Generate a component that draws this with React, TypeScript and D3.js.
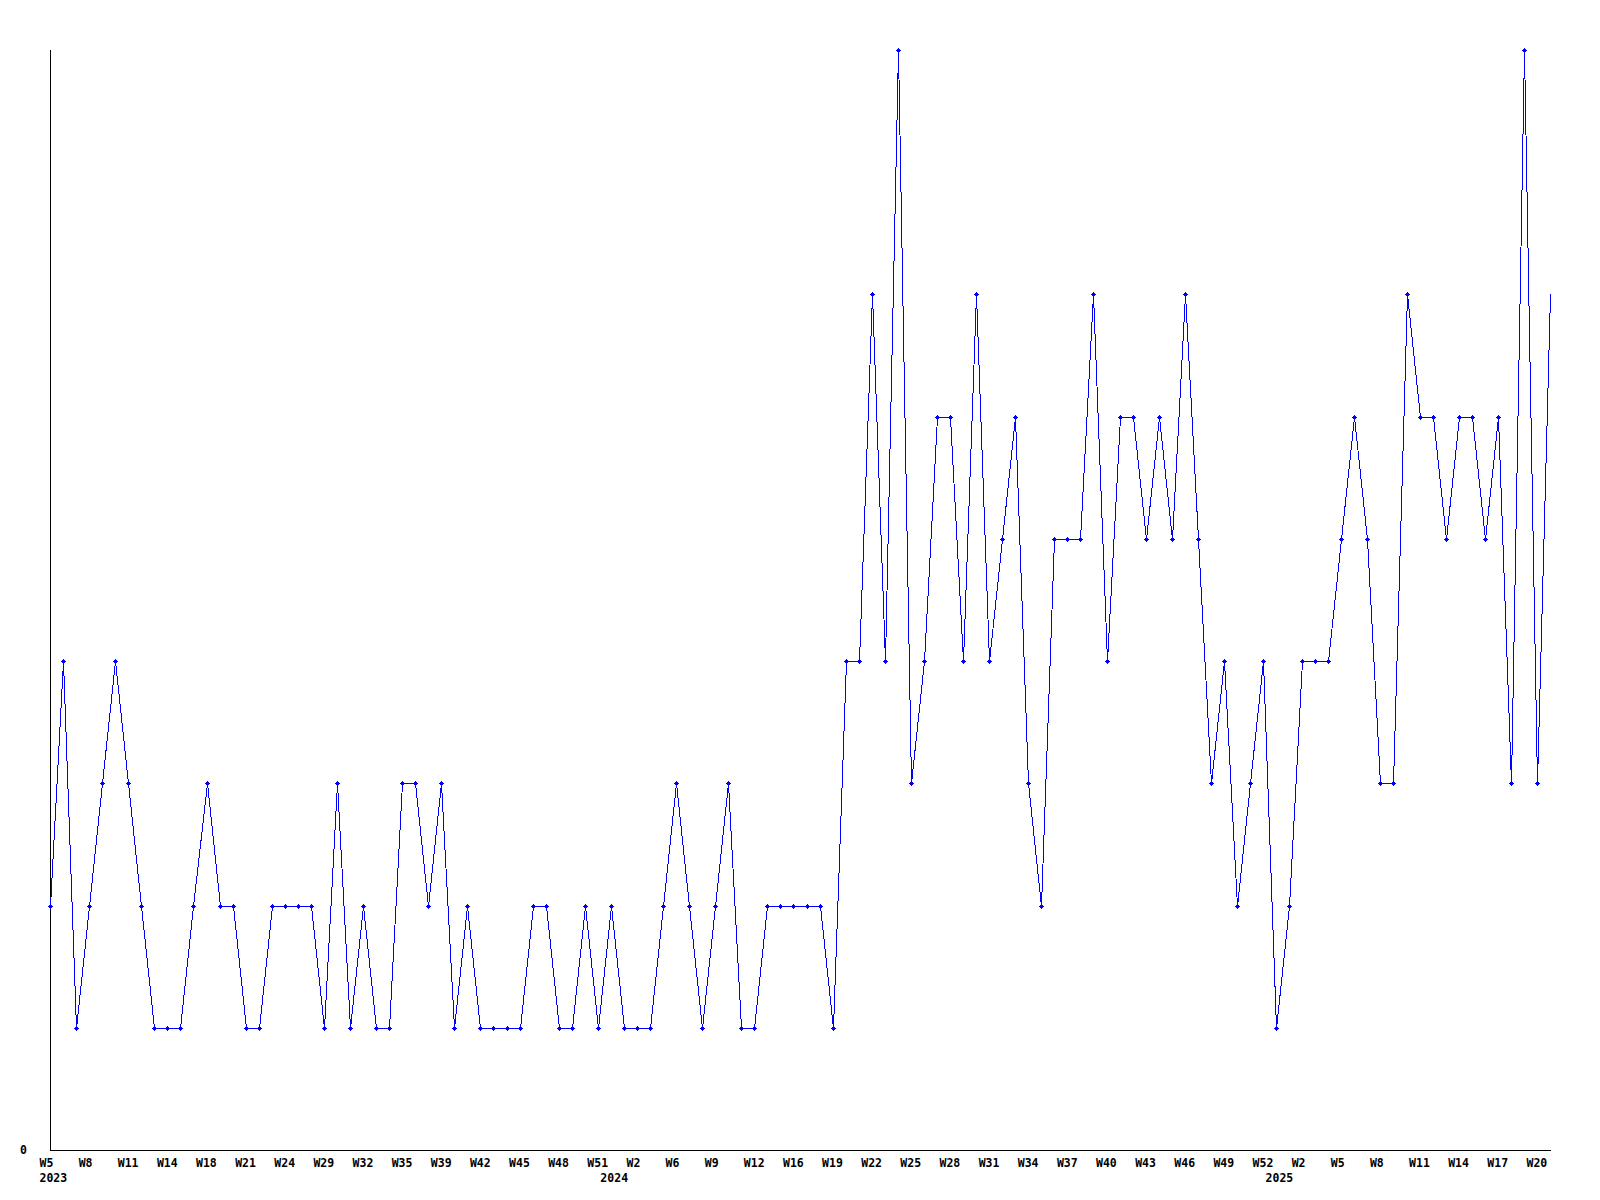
import React from "react";
import * as d3 from "d3";

// ---- data ----
const weeks2023 = ["W5","W6","W7","W8","W9","W10","W11","W12","W13","W14","W15","W17","W18","W19","W20","W21","W22","W23","W24","W25","W26","W29","W30","W31","W32","W33","W34","W35","W36","W38","W39","W40","W41","W42","W43","W44","W45","W46","W47","W48","W49","W50","W51"];
const values2023 = [2,4,1,2,3,4,3,2,1,1,1,2,3,2,2,1,1,2,2,2,2,1,3,1,2,1,1,3,3,2,3,1,2,1,1,1,1,2,2,1,1,2,1];

const weeks2024 = ["W0","W1","W2","W3","W5","W6","W7","W8","W9","W10","W11","W12","W13","W15","W16","W17","W18","W19","W20","W21","W22","W23","W24","W25","W26","W27","W28","W29","W30","W31","W32","W33","W34","W35","W36","W37","W38","W39","W40","W41","W42","W43","W44","W45","W46","W47","W48","W49","W50","W51","W52"];
const values2024 = [2,1,1,1,2,3,2,1,2,3,1,1,2,2,2,2,2,1,4,4,7,4,9,3,4,6,6,4,7,4,5,6,3,2,5,5,5,7,4,6,6,5,6,5,7,5,3,4,2,3,4];

const weeks2025 = ["W0","W1","W2","W3","W4","W5","W6","W7","W8","W9","W10","W11","W12","W13","W14","W15","W16","W17","W18","W19","W20","W21"];
const values2025 = [1,2,4,4,4,5,6,5,3,3,7,6,6,5,6,6,5,6,3,9,3,7];

const years = ["2023", "2024", "2025"];
const yMax = 9;
const yTickValues = [0];

type Pt = { i: number; week: string; year: string; value: number; firstOfYear: boolean };

const points: Pt[] = [];
[[weeks2023, values2023], [weeks2024, values2024], [weeks2025, values2025]].forEach(([wk, vals], yi) => {
  (wk as string[]).forEach((w, j) => {
    points.push({ i: points.length, week: w, year: years[yi], value: (vals as number[])[j], firstOfYear: j === 0 });
  });
});

const W = 1600;
const H = 1200;
const left = 50;
const right = 1550;
const top = 50;
const bottom = 1150;
const FONT = "'DejaVu Sans Mono', 'Liberation Mono', monospace";

export default function App() {
  const x = d3.scalePoint<number>().domain(points.map((p) => p.i)).range([left, right]);
  const y = d3.scaleLinear().domain([0, yMax]).range([bottom, top]);
  const px = (p: Pt) => Math.round(x(p.i) as number) + 0.5;
  const py = (p: Pt) => Math.round(y(p.value)) + 0.5;
  const line = d3.line<Pt>().x(px).y(py);

  return (
    <svg
      width={W}
      height={H}
      style={{ position: "absolute", left: 0, top: 0, background: "#fff" }}
      xmlns="http://www.w3.org/2000/svg"
    >
      <rect x={0} y={0} width={W} height={H} fill="#fff" />
      {/* axes */}
      <line x1={left + 0.5} y1={top} x2={left + 0.5} y2={bottom + 0.5} stroke="#000" strokeWidth={1} shapeRendering="crispEdges" />
      <line x1={left} y1={bottom + 0.5} x2={right + 1} y2={bottom + 0.5} stroke="#000" strokeWidth={1} shapeRendering="crispEdges" />
      {yTickValues.map((v) => (
        <text key={v} x={20} y={y(v) + 4} fontFamily={FONT} fontWeight="bold" fontSize={11.5} fill="#000">
          {v}
        </text>
      ))}
      {/* x tick labels */}
      {points.filter((p) => p.i % 3 === 0).map((p) => (
        <text key={"w" + p.i} x={(x(p.i) as number) - 10.5} y={bottom + 17} fontFamily={FONT} fontWeight="bold" fontSize={11.5} fill="#000">
          {p.week}
        </text>
      ))}
      {points.filter((p) => p.firstOfYear).map((p) => (
        <text key={"y" + p.i} x={(x(p.i) as number) - 10.5} y={bottom + 32} fontFamily={FONT} fontWeight="bold" fontSize={11.5} fill="#000">
          {p.year}
        </text>
      ))}
      {/* series */}
      <path d={line(points) || ""} fill="none" stroke="#0000ff" strokeWidth={1} shapeRendering="crispEdges" />
      {points.slice(0, -1).map((p) => (
        <g key={"m" + p.i} transform={`translate(${px(p) - 0.5},${py(p) - 0.5})`} fill="#0000ff" shapeRendering="crispEdges">
          <rect x={-1} y={-1} width={3} height={3} />
          <rect x={-2} y={0} width={5} height={1} />
          <rect x={0} y={-2} width={1} height={5} />
        </g>
      ))}
    </svg>
  );
}
